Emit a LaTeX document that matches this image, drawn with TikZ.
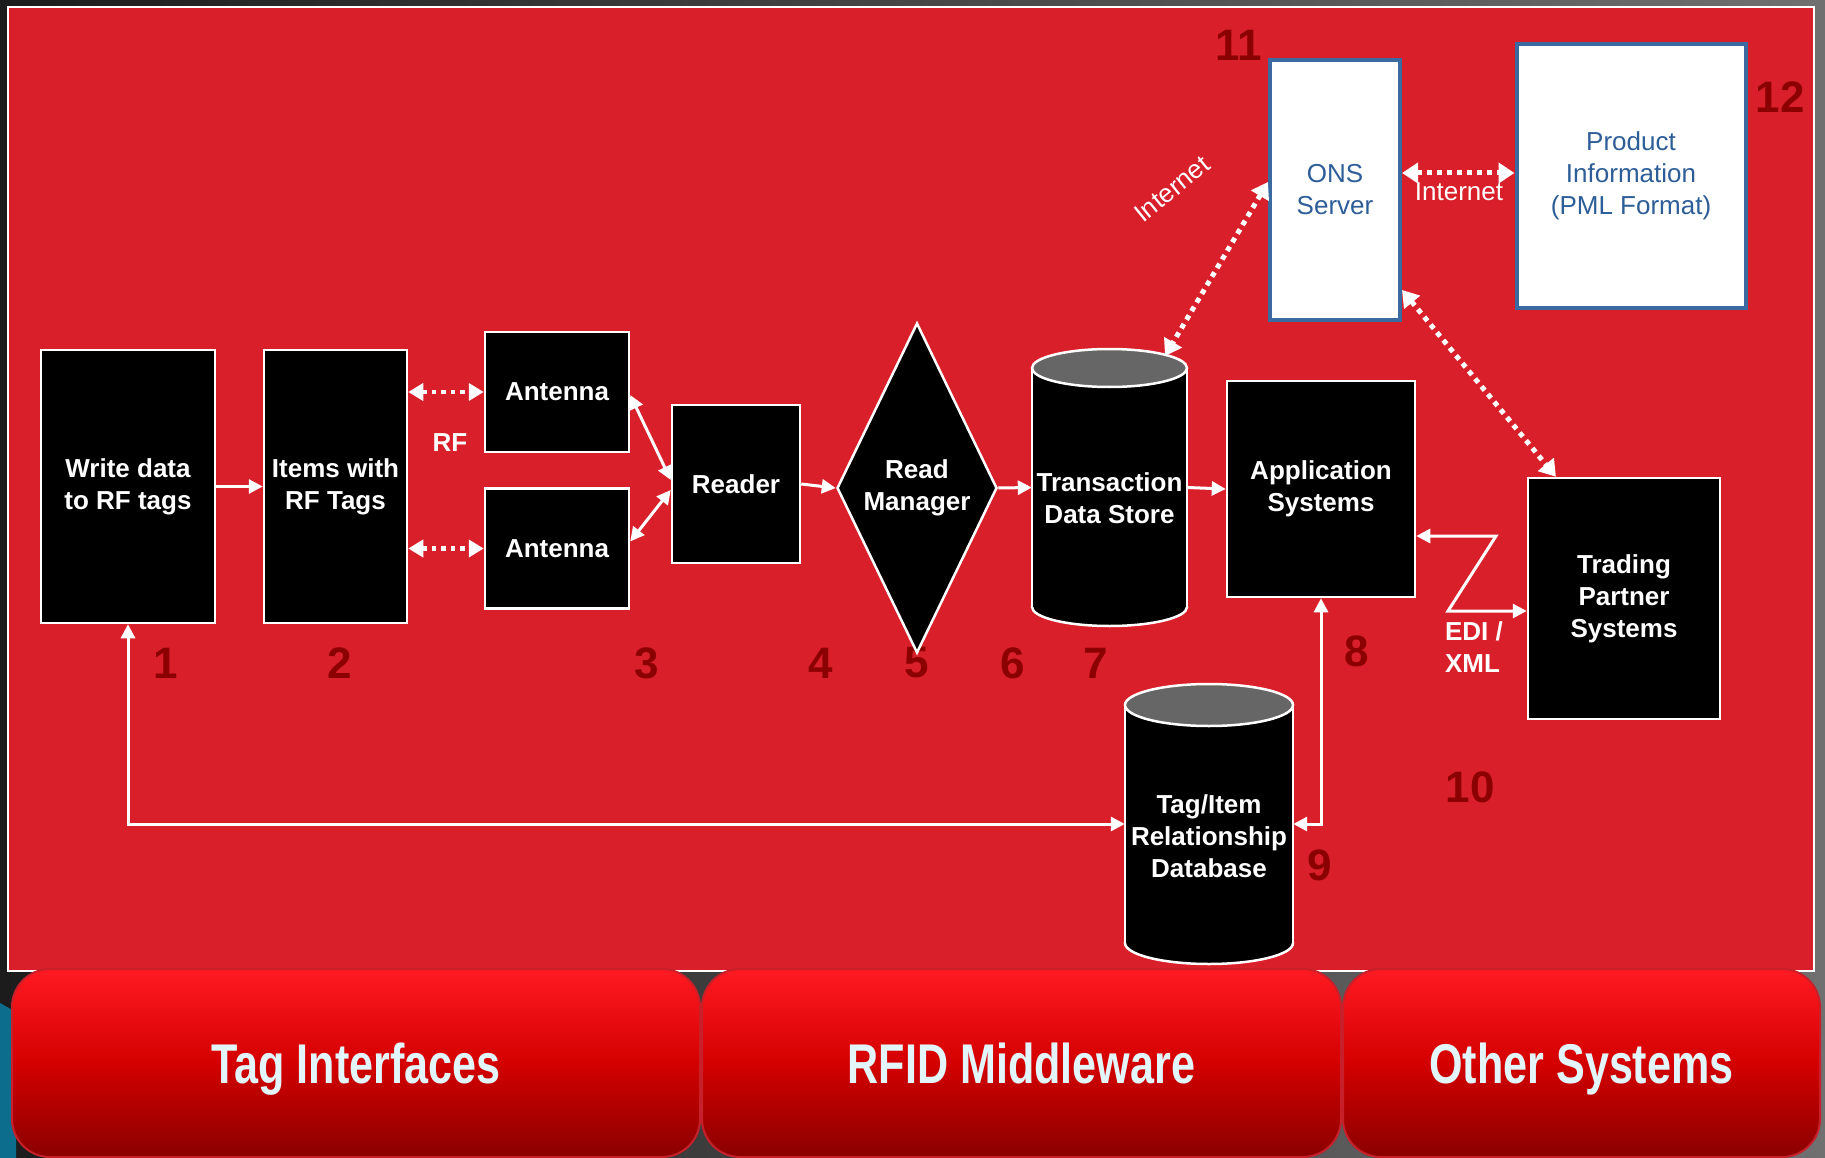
\documentclass[tikz,border=0pt]{standalone}
\usepackage{fontspec}
\setmainfont{Liberation Sans}
\newfontfamily\bandfont[FakeStretch=0.77]{Liberation Sans}
\usetikzlibrary{arrows.meta,calc,shapes.geometric}

\definecolor{bgL}{RGB}{28,28,28}
\definecolor{bgR}{RGB}{112,112,112}
\definecolor{bgTeal}{RGB}{12,110,140}
\definecolor{panelred}{RGB}{217,31,41}
\definecolor{numred}{RGB}{139,0,0}
\definecolor{onsblue}{RGB}{59,106,160}
\definecolor{onstext}{RGB}{46,94,152}
\definecolor{dbtop}{RGB}{102,102,102}
\definecolor{bandtop}{RGB}{255,26,34}
\definecolor{bandmid}{RGB}{212,0,0}
\definecolor{bandbot}{RGB}{138,0,0}
\definecolor{bandedge}{RGB}{200,32,42}
\definecolor{bandtext}{RGB}{226,245,250}

% database drum: centre x, top y, bottom y, x radius, y radius
\newcommand\cylbody[5]{%
  \filldraw[fill=black,draw=white,line width=2.5pt] (#1,#3-#5) ellipse [x radius=#4pt, y radius=#5pt];
  \fill[black] (#1-#4,#2+#5) rectangle (#1+#4,#3-#5);
  \draw[white,line width=2.5pt] (#1-#4,#2+#5) -- (#1-#4,#3-#5) (#1+#4,#2+#5) -- (#1+#4,#3-#5);
  \filldraw[fill=dbtop,draw=white,line width=2.5pt] (#1,#2+#5) ellipse [x radius=#4pt, y radius=#5pt];
}

\begin{document}
\begin{tikzpicture}[x=1pt,y=-1pt,
  box/.style={draw=white, line width=2.5pt, fill=black, text=white,
    font=\bfseries\fontsize{26}{32}\selectfont, align=center, inner sep=0pt},
  lbl/.style={text=white, font=\bfseries\fontsize{26}{32}\selectfont, align=center, inner sep=0pt},
  weblbl/.style={text=white, font=\fontsize{26}{32}\selectfont, inner sep=0pt},
  webbox/.style={draw=onsblue, line width=4pt, fill=white, text=onstext,
    font=\fontsize{26}{32}\selectfont, align=center, inner sep=0pt},
  num/.style={text=numred, font=\bfseries\fontsize{44}{44}\selectfont, inner sep=0pt},
  band/.style={draw=bandedge, line width=2pt, rounded corners=38pt,
    top color=bandtop, bottom color=bandbot, middle color=bandmid,
    text=bandtext, font=\bandfont\bfseries\fontsize{56}{60}\selectfont,
    inner sep=0pt, text height=40pt, text depth=0pt},
  arr/.style={draw=white, line width=3pt, -{Triangle[length=14pt,width=14pt]}},
  biarr/.style={draw=white, line width=3pt,
    {Triangle[length=14pt,width=14pt]}-{Triangle[length=14pt,width=14pt]}},
  dotS/.style={draw=white, line width=4.5pt, dash pattern=on 4.5pt off 5pt,
    {Triangle[length=15pt,width=17pt]}-{Triangle[length=15pt,width=17pt]}},
  dotL/.style={draw=white, line width=5pt, dash pattern=on 5pt off 5pt,
    {Triangle[length=16pt,width=20pt]}-{Triangle[length=16pt,width=20pt]}}
]
\useasboundingbox (0,0) rectangle (1825,1158);

% backdrop and main panel
\shade[left color=bgL, right color=bgR] (0,0) rectangle (1825,1158);
\fill[bgTeal] (0,1003) -- (16,1012) -- (16,1158) -- (0,1158) -- cycle;
\filldraw[fill=panelred, draw=white, line width=2pt] (8,7) rectangle (1814,971);

% step numbers
\node[num] (n1) at (166,663) {1};
\node[num] (n2) at (340,663) {2};
\node[num] (n3) at (647,663) {3};
\node[num] (n4) at (821,663) {4};
\node[num] (n5) at (917,663) {5};
\node[num] (n6) at (1013,663) {6};
\node[num] (n7) at (1096,663) {7};
\node[num] (n8) at (1357,651) {8};
\node[num] (n9) at (1320,865) {9};
\node[num] (n10) at (1470,787) {10};
\node[num] (n11) at (1239,45) {11};
\node[num] (n12) at (1780,97) {12};

% tag side
\node[box, minimum width=174pt, minimum height=273pt] (write) at (128,486.5) {Write data\\to RF tags};
\node[box, minimum width=143pt, minimum height=273pt] (items) at (335.5,486.5) {Items with\\RF Tags};
\node[box, minimum width=144pt, minimum height=120pt] (ant1) at (557,392) {Antenna};
\node[box, minimum width=144pt, minimum height=120pt] (ant2) at (557,548.5) {Antenna};
\node[box, minimum width=128pt, minimum height=158pt] (reader) at (736,484) {Reader};
\node[box, diamond, aspect=0.485, minimum width=160pt, minimum height=330pt] (rm) at (917,488) {Read\\Manager};

% middleware stores
\cylbody{1109.5}{349}{626}{77.5}{19}
\node[minimum width=155pt, minimum height=277pt, inner sep=0pt] (tds) at (1109.5,487.5) {};
\node[lbl] (tdsText) at (1109.5,498) {Transaction\\Data Store};
\node[box, minimum width=188pt, minimum height=216pt] (app) at (1321,489) {Application\\Systems};
\node[box, minimum width=192pt, minimum height=241pt] (trading) at (1624,598.5) {Trading\\Partner\\Systems};
\cylbody{1209}{684}{964}{84}{21}
\node[minimum width=168pt, minimum height=280pt, inner sep=0pt] (db) at (1209,824) {};
\node[lbl] (dbText) at (1209,836) {Tag/Item\\Relationship\\Database};

% internet services
\node[webbox, minimum width=130pt, minimum height=260pt] (ons) at (1335,190) {ONS\\Server};
\node[webbox, minimum width=229pt, minimum height=264pt] (prod) at (1631,176) {Product\\Information\\(PML Format)};

% labels
\node[lbl] (rf) at (450,443) {RF};
\node[lbl, align=left] (edi) at (1474,647) {EDI /\\XML};
\node[weblbl] (inetB) at (1459,192) {Internet};
\node[weblbl, rotate=39] (inetA) at (1172,189) {Internet};

% connectors
\coordinate (zA) at (1496,536);
\coordinate (zB) at (1448,611);
\coordinate (zP) at (1460,173);
\coordinate (tdsTop) at (1165,356);
\draw[arr] (write.east) -- (items.west);
\draw[dotS] (items.east |- ant1.west) -- (ant1.west);
\draw[dotS] (items.east |- ant2.west) -- (ant2.west);
\draw[biarr] ([yshift=-3pt]ant1.east) -- ([yshift=4pt]reader.west);
\draw[biarr] ([yshift=7pt]ant2.east) -- ([yshift=-6pt]reader.west);
\draw[arr] (reader.east) -- (rm.west);
\draw[arr] (rm.east) -- (tds.west);
\draw[arr] (tds.east) -- (app.west);
\draw[biarr] (app.south) |- (db.east);
\draw[biarr] (write.south) |- (db.west);
\draw[biarr] (app.east |- zA) -- (zA) -- (zB) -- (trading.west |- zB);
\draw[dotL] ([yshift=8pt]ons.west) -- (tdsTop);
\draw[dotL] (ons.east |- zP) -- (prod.west |- zP);
\draw[dotL] ([yshift=-100pt]ons.east) -- ($(trading.north west)!0.15!(trading.north east)$);

% layer bands
\node[band, minimum width=688pt, minimum height=188pt] (bandTag) at (356,1063) {Tag Interfaces};
\node[band, minimum width=639pt, minimum height=188pt] (bandMid) at (1021.5,1063) {RFID Middleware};
\node[band, minimum width=477pt, minimum height=188pt] (bandOther) at (1581.5,1063) {Other Systems};
\end{tikzpicture}
\end{document}
